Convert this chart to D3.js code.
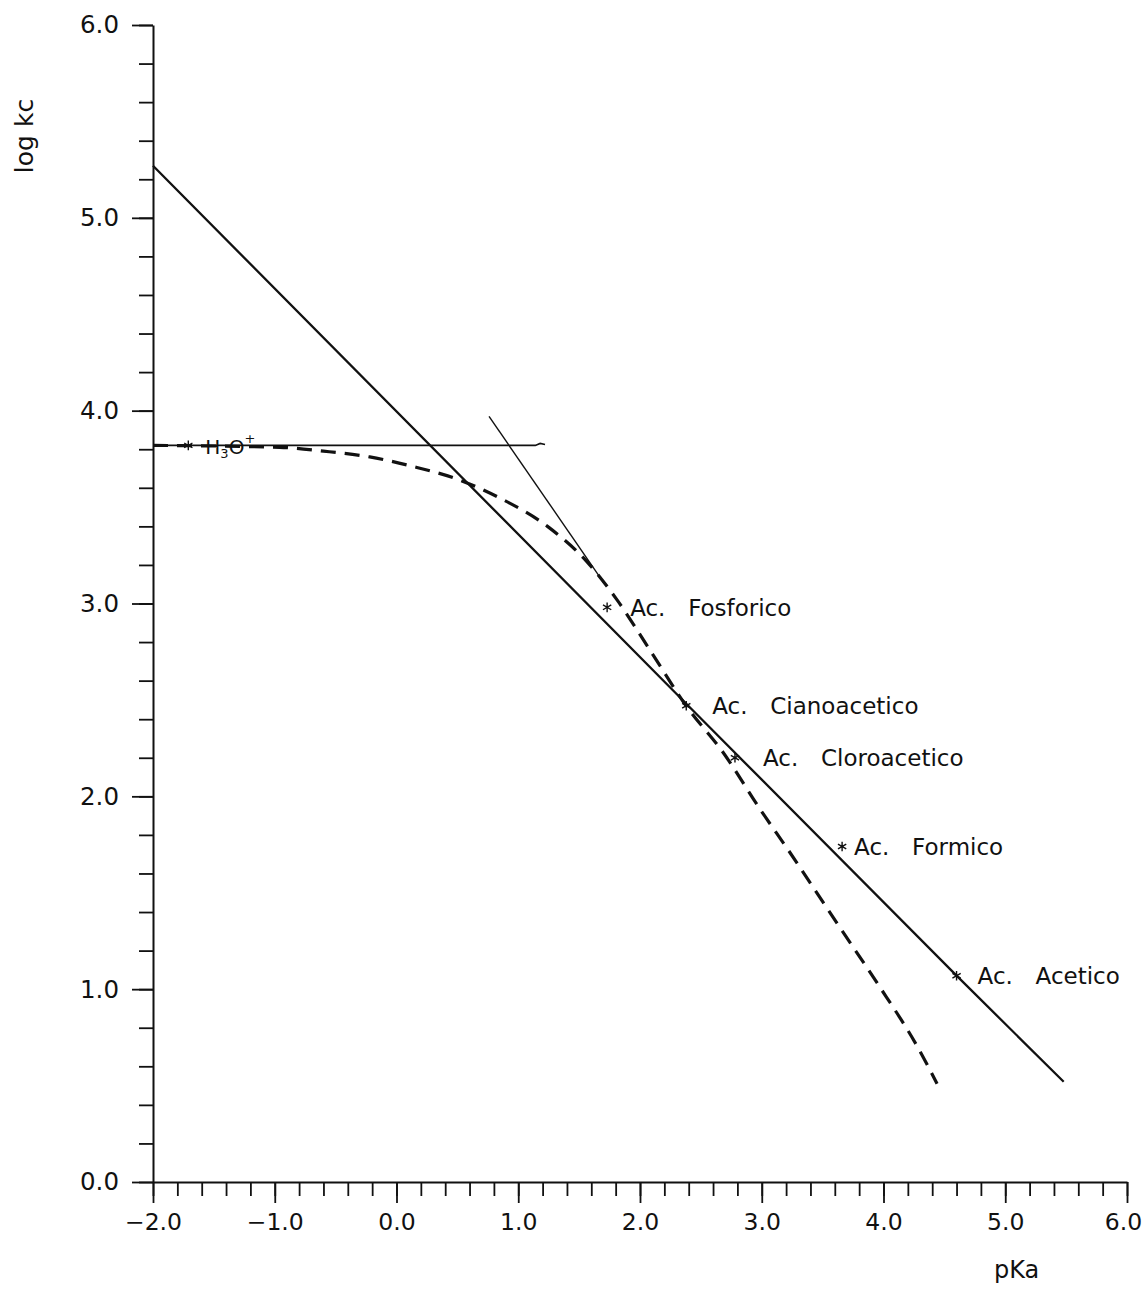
<!DOCTYPE html>
<html>
<head>
<meta charset="utf-8">
<script src="https://cdn.jsdelivr.net/npm/d3@7"></script>
<style>
  html, body { margin: 0; padding: 0; background: #fff; }
  svg { display: block; }
  text { font-family: "DejaVu Sans", sans-serif; fill: #111; }
</style>
</head>
<body>
<svg id="chart" width="1145" height="1297"></svg>
<script>
// ---- data ----
const xMajorTicks = [-2, -1, 0, 1, 2, 3, 4, 5, 6];
const yMajorTicks = [0, 1, 2, 3, 4, 5, 6];

// main (solid) correlation line
const mainLineX = [-2.0, 2.38, 4.60, 5.48];
const mainLineY = [5.27, 2.48, 1.07, 0.52];

// horizontal line at H3O+ level
const hLineX = [-2.0, 1.14, 1.18, 1.22];
const hLineY = [3.82, 3.82, 3.83, 3.825];

// thin steep line
const thinLineX = [0.76, 1.70];
const thinLineY = [3.97, 3.11];

// dashed curve
const dashX = [-2.0, -0.96, -0.60, -0.22, 0.14, 0.52, 0.87, 1.24, 1.56, 1.81, 2.08, 2.39, 2.68, 2.99, 3.23, 3.62, 3.95, 4.28, 4.44];
const dashY = [3.82, 3.81, 3.79, 3.76, 3.71, 3.64, 3.54, 3.40, 3.22, 3.02, 2.76, 2.46, 2.23, 1.93, 1.71, 1.34, 1.03, 0.70, 0.51];

// acids
const acidNames = ["H3O+", "Fosforico", "Cianoacetico", "Cloroacetico", "Formico", "Acetico"];
const acidPKa   = [-1.71, 1.73, 2.38, 2.78, 3.66, 4.60];
const acidLogKc = [3.82, 2.98, 2.47, 2.20, 1.74, 1.07];

// ---- drawing ----
const svg = d3.select("#chart");
svg.append("rect").attr("width", 1145).attr("height", 1297).attr("fill", "#fff");

const x = d3.scaleLinear().domain([-2, 6]).range([153, 1127]);
const y = d3.scaleLinear().domain([0, 6]).range([1182, 25]);

const minorX = d3.range(-2, 6.001, 0.2).map(v => +v.toFixed(1));
const minorY = d3.range(0, 6.001, 0.2).map(v => +v.toFixed(1));

// y axis
const gy = svg.append("g").attr("transform", `translate(${x(-2)},0)`);
gy.call(d3.axisLeft(y).tickValues(minorY).tickSize(14).tickSizeOuter(0).tickFormat(""));
const gy2 = svg.append("g").attr("transform", `translate(${x(-2)},0)`);
gy2.call(d3.axisLeft(y).tickValues(yMajorTicks).tickSize(21).tickSizeOuter(0).tickPadding(13).tickFormat(d3.format(".1f")));
gy2.select(".domain").remove();

// x axis
const gx = svg.append("g").attr("transform", `translate(0,${y(0)})`);
gx.call(d3.axisBottom(x).tickValues(minorX).tickSize(14).tickSizeOuter(0).tickFormat(""));
const gx2 = svg.append("g").attr("transform", `translate(0,${y(0)})`);
gx2.call(d3.axisBottom(x).tickValues(xMajorTicks).tickSize(21).tickSizeOuter(0).tickPadding(10).tickFormat(d3.format(".1f")));
gx2.select(".domain").remove();

svg.selectAll(".domain").attr("stroke", "#111").attr("stroke-width", 2);
svg.selectAll(".tick line").attr("stroke", "#111").attr("stroke-width", 1.8);
gy2.selectAll(".tick text").attr("font-size", 24.5);
gx2.selectAll(".tick text").attr("font-size", 23.5);
svg.selectAll(".tick text").attr("font-family", "DejaVu Sans, sans-serif").attr("fill", "#111");
// keep the last x label inside the picture
gx2.selectAll(".tick text").filter(d => d === 6).attr("dx", -4);

// axis titles
svg.append("text")
  .attr("transform", `translate(33,136) rotate(-90)`)
  .attr("text-anchor", "middle")
  .attr("font-size", 25)
  .text("log kc");
svg.append("text")
  .attr("x", 994).attr("y", 1278)
  .attr("font-size", 24)
  .text("pKa");

const line = d3.line().x(d => x(d[0])).y(d => y(d[1]));
const zip = (a, b) => a.map((v, i) => [v, b[i]]);

// horizontal line
svg.append("path").datum(zip(hLineX, hLineY))
  .attr("d", line).attr("fill", "none").attr("stroke", "#111").attr("stroke-width", 1.6);

// thin line
svg.append("path").datum(zip(thinLineX, thinLineY))
  .attr("d", line).attr("fill", "none").attr("stroke", "#111").attr("stroke-width", 1.4);

// main line
svg.append("path").datum(zip(mainLineX, mainLineY))
  .attr("d", line).attr("fill", "none").attr("stroke", "#111").attr("stroke-width", 2.3);

// dashed curve
svg.append("path").datum(zip(dashX, dashY))
  .attr("d", d3.line().x(d => x(d[0])).y(d => y(d[1])).curve(d3.curveMonotoneX))
  .attr("fill", "none").attr("stroke", "#111").attr("stroke-width", 3.2)
  .attr("stroke-dasharray", "15,9");

// points
const pts = acidNames.map((n, i) => ({ name: n, px: acidPKa[i], py: acidLogKc[i] }));
svg.selectAll(".pt").data(pts).join("path")
  .attr("class", "pt")
  .attr("transform", d => `translate(${x(d.px)},${y(d.py)})`)
  .attr("d", d3.symbol(d3.symbolAsterisk, 64))
  .attr("fill", "none").attr("stroke", "#111").attr("stroke-width", 1.4);

// labels
const nudge = { "Fosforico": 23, "Cianoacetico": 26, "Cloroacetico": 28, "Formico": 12, "Acetico": 21 };
pts.filter(d => d.name !== "H3O+").forEach(d => {
  const x0 = x(d.px) + nudge[d.name];
  const t = svg.append("text")
    .attr("y", y(d.py)).attr("dy", "0.36em")
    .attr("font-size", 23);
  t.append("tspan").attr("x", x0).text("Ac.");
  t.append("tspan").attr("x", x0 + 58).text(d.name);
});

// H3O+ label
const h = pts.find(d => d.name === "H3O+");
const ht = svg.append("text")
  .attr("x", x(h.px) + 17).attr("y", y(h.py) + 9)
  .attr("font-size", 20);
ht.append("tspan").text("H");
ht.append("tspan").attr("font-size", 13).attr("dy", 4).text("3");
ht.append("tspan").attr("dy", -4).text("O");
ht.append("tspan").attr("font-size", 13).attr("dy", -11).text("+");
</script>
</body>
</html>
